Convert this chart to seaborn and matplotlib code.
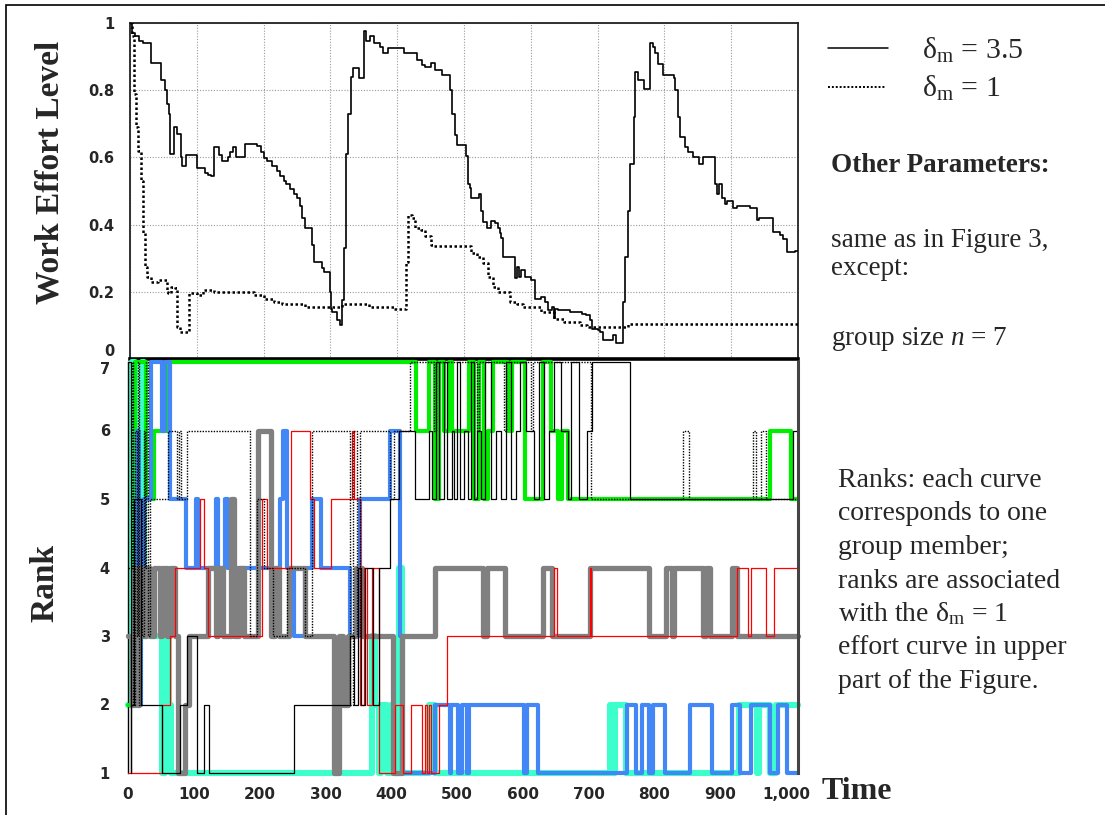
import numpy as np
import pandas as pd
import matplotlib
matplotlib.use("Agg")
import matplotlib.pyplot as plt
from matplotlib.lines import Line2D
from matplotlib.patches import Rectangle
import seaborn as sns

# ---------------- data: work effort (upper panel) ----------------
# delta_m = 3.5 (solid) : step change points (time, effort)
solid_t = [0, 3, 8, 13, 20, 32, 45, 47, 52, 55, 58, 60, 66, 71, 76, 78, 84, 101, 112, 117,
           122, 126, 133, 138, 146, 150, 154, 158, 165, 172, 190, 196, 200, 205, 212, 220,
           225, 230, 234, 240, 245, 250, 255, 257, 262, 272, 275, 287, 291, 299, 301, 303,
           310, 315, 317, 320, 324, 327, 331, 334, 343, 350, 353, 360, 366, 374, 379, 386,
           410, 430, 437, 442, 450, 457, 467, 479, 482, 486, 489, 503, 506, 509, 511, 522,
           525, 529, 534, 540, 547, 551, 554, 556, 559, 577, 580, 583, 586, 591, 601, 606,
           616, 621, 626, 631, 634, 636, 641, 659, 676, 683, 688, 691, 701, 704, 708, 723,
           728, 738, 741, 746, 748, 754, 756, 761, 770, 779, 783, 786, 791, 798, 814, 816,
           821, 823, 831, 836, 843, 852, 858, 876, 878, 882, 886, 891, 894, 903, 908, 928,
           938, 941, 963, 973, 978, 983, 995, 1000]
solid_v = [1.00, 0.97, 0.96, 0.945, 0.94, 0.88, 0.88, 0.83, 0.80, 0.76, 0.73, 0.61, 0.69, 0.67,
           0.60, 0.575, 0.607, 0.568, 0.555, 0.548, 0.545, 0.63, 0.607, 0.59, 0.60, 0.617,
           0.63, 0.60, 0.60, 0.64, 0.635, 0.617, 0.598, 0.59, 0.575, 0.56, 0.545, 0.53, 0.52,
           0.505, 0.49, 0.478, 0.455, 0.42, 0.39, 0.34, 0.29, 0.27, 0.26, 0.20, 0.15, 0.14,
           0.116, 0.10, 0.175, 0.33, 0.61, 0.73, 0.84, 0.865, 0.835, 0.975, 0.945, 0.96, 0.94,
           0.93, 0.91, 0.925, 0.91, 0.89, 0.875, 0.87, 0.88, 0.86, 0.845, 0.80, 0.73, 0.667,
           0.637, 0.605, 0.52, 0.51, 0.48, 0.49, 0.44, 0.409, 0.39, 0.41, 0.405, 0.39, 0.375,
           0.36, 0.305, 0.24, 0.275, 0.245, 0.265, 0.245, 0.235, 0.18, 0.186, 0.171, 0.145,
           0.155, 0.123, 0.15, 0.145, 0.14, 0.135, 0.13, 0.116, 0.09, 0.085, 0.08, 0.056, 0.07,
           0.047, 0.17, 0.305, 0.44, 0.58, 0.72, 0.855, 0.83, 0.805, 0.94, 0.93, 0.91, 0.877,
           0.845, 0.835, 0.80, 0.72, 0.66, 0.63, 0.617, 0.60, 0.58, 0.60, 0.52, 0.49, 0.52,
           0.48, 0.46, 0.47, 0.45, 0.455, 0.45, 0.414, 0.42, 0.378, 0.37, 0.357, 0.317, 0.32,
           0.32]

# delta_m = 1 (dotted)
dotted_t = [0, 3, 6, 9, 12, 16, 19, 20, 22, 25, 32, 42, 55, 57, 62, 67, 70, 75, 87, 89, 95,
            100, 110, 125, 185, 200, 215, 227, 262, 318, 358, 395, 413, 416, 422, 427, 435,
            442, 450, 455, 511, 519, 529, 536, 544, 551, 569, 579, 589, 616, 634, 649, 674,
            684, 746, 1000]
dotted_v = [1.0, 0.96, 0.79, 0.69, 0.62, 0.53, 0.45, 0.375, 0.275, 0.245, 0.23, 0.235, 0.20,
            0.195, 0.215, 0.21, 0.096, 0.08, 0.08, 0.195, 0.195, 0.19, 0.205, 0.20, 0.19,
            0.18, 0.17, 0.165, 0.155, 0.165, 0.155, 0.15, 0.29, 0.43, 0.42, 0.39, 0.385,
            0.365, 0.34, 0.335, 0.315, 0.305, 0.285, 0.245, 0.215, 0.20, 0.17, 0.165, 0.155,
            0.14, 0.12, 0.11, 0.10, 0.095, 0.105, 0.105]

# ---------------- data: ranks (lower panel) ----------------
cyan_t = [0, 6, 10, 14, 17, 21, 25, 52, 56, 62, 66, 370, 376, 381, 385, 393, 399, 405, 411,
          417, 457, 467, 732, 736, 740, 757, 928, 955, 959, 975, 985, 1018]
cyan_r = [2, 7, 2, 6, 3, 7, 3, 1, 3, 2, 1, 3, 2, 1, 2, 1, 2, 1, 4, 1, 2, 1, 2, 1, 2, 1, 2, 1,
          2, 1, 2, 2]

green_t = [0, 11, 27, 39, 62, 438, 457, 467, 472, 480, 487, 492, 518, 525, 533, 541, 547,
           555, 578, 583, 603, 630, 643, 653, 659, 669, 975, 1008, 1018]
green_r = [2, 7, 5, 6, 7, 6, 7, 5, 7, 6, 7, 6, 7, 5, 7, 5, 6, 7, 6, 7, 5, 7, 6, 5, 6, 5, 6,
           5, 5]

blue_t = [0, 10, 13, 17, 20, 25, 35, 51, 56, 64, 88, 103, 107, 133, 137, 147, 152, 160, 165,
          231, 236, 241, 252, 269, 279, 294, 338, 352, 398, 413, 416, 467, 489, 491, 502,
          507, 515, 518, 601, 606, 623, 758, 772, 781, 791, 798, 816, 854, 887, 918, 930,
          947, 975, 988, 1001, 1018]
blue_r = [3, 2, 6, 2, 3, 5, 7, 6, 7, 5, 4, 5, 4, 5, 4, 5, 4, 3, 4, 5, 6, 4, 3, 4, 5, 4, 3, 5,
          6, 3, 1, 2, 1, 2, 1, 2, 1, 2, 1, 2, 1, 2, 1, 2, 1, 2, 1, 2, 1, 2, 1, 2, 1, 2, 1, 1]

gray_t = [0, 6, 9, 13, 17, 21, 27, 33, 40, 48, 52, 59, 64, 72, 76, 87, 92, 122, 133, 137,
          145, 157, 161, 168, 176, 198, 218, 224, 230, 244, 269, 313, 320, 327, 334, 347,
          355, 403, 417, 466, 540, 546, 573, 631, 644, 702, 792, 817, 827, 829, 874, 878,
          884, 917, 925, 1018]
gray_r = [3, 2, 4, 2, 4, 3, 4, 3, 4, 3, 4, 3, 4, 3, 1, 2, 3, 4, 3, 4, 3, 5, 3, 4, 3, 6, 3, 4,
          3, 4, 3, 1, 3, 2, 3, 4, 3, 1, 3, 4, 3, 4, 3, 4, 3, 4, 3, 4, 3, 4, 3, 4, 3, 4, 3, 3]

red_t = [0, 51, 64, 71, 110, 115, 122, 204, 211, 247, 277, 282, 308, 341, 344, 352, 358,
         363, 370, 381, 406, 418, 430, 447, 451, 454, 457, 460, 472, 484, 647, 652, 702,
         704, 926, 942, 947, 970, 981, 1018]
red_r = [1, 2, 3, 4, 5, 4, 3, 5, 4, 6, 5, 4, 5, 6, 5, 2, 4, 2, 4, 1, 2, 1, 2, 1, 2, 1, 2, 1,
         2, 3, 4, 3, 4, 3, 4, 3, 4, 3, 4, 4]

black_t = [0, 4, 5, 9, 19, 51, 79, 89, 105, 115, 123, 252, 338, 344, 350, 354, 360, 372,
           381, 398, 411, 436, 457, 462, 468, 472, 480, 485, 492, 496, 500, 505, 511, 516,
           521, 526, 531, 536, 543, 551, 559, 567, 575, 582, 589, 596, 605, 617, 624, 632,
           640, 648, 658, 669, 673, 685, 697, 705, 763, 1011, 1018]
black_r = [7, 1, 2, 5, 2, 1, 2, 3, 1, 2, 1, 2, 3, 2, 4, 2, 4, 2, 4, 5, 6, 5, 6, 5, 7, 5, 7,
           5, 6, 5, 7, 5, 6, 5, 7, 5, 6, 5, 7, 5, 6, 5, 7, 5, 6, 7, 6, 5, 7, 5, 6, 7, 6, 5,
           7, 5, 6, 7, 5, 6, 6]

dot_t = [0, 6, 8, 11, 13, 15, 17, 20, 22, 24, 26, 28, 30, 33, 61, 74, 77, 81, 89, 186, 196,
         206, 221, 242, 269, 279, 338, 342, 348, 352, 398, 404, 429, 465, 468, 531, 534,
         571, 575, 612, 616, 703, 843, 852, 950, 954, 962, 970, 1018]
dot_r = [4, 7, 2, 6, 3, 7, 2, 5, 3, 6, 4, 7, 3, 5, 6, 5, 6, 5, 6, 3, 5, 4, 3, 4, 3, 6, 2, 6,
         3, 6, 5, 6, 7, 6, 7, 6, 7, 6, 7, 6, 7, 5, 6, 5, 6, 5, 6, 5, 5]

x_ticks = [0, 100, 200, 300, 400, 500, 600, 700, 800, 900, 1000]
x_tick_labels = ["0", "100", "200", "300", "400", "500", "600", "700", "800", "900", "1,000"]
effort_ticks = [0, 0.2, 0.4, 0.6, 0.8, 1.0]
effort_tick_labels = ["0", "0.2", "0.4", "0.6", "0.8", "1"]
rank_ticks = [1, 2, 3, 4, 5, 6, 7]

# ---------------- styling ----------------
sns.set_theme(style="white")
plt.rcParams["font.family"] = ["Liberation Serif", "DejaVu Serif"]
plt.rcParams["mathtext.fontset"] = "custom"
plt.rcParams["mathtext.rm"] = "Liberation Serif"
plt.rcParams["mathtext.it"] = "Liberation Serif:italic"
plt.rcParams["mathtext.bf"] = "Liberation Serif:bold"

W, H = 1105, 815
fig = plt.figure(figsize=(W / 100, H / 100), dpi=100)
fig.patch.set_facecolor("white")


def fx(px):
    return px / W


def fy(py):
    return 1 - py / H


ax1 = fig.add_axes([fx(130), fy(359), (798 - 130) / W, (359 - 23) / H])
ax2 = fig.add_axes([fx(128), fy(773), (798 - 128) / W, (773 - 362) / H])

# upper panel
sns.lineplot(x=solid_t, y=solid_v, ax=ax1, color="black", lw=1.2, estimator=None,
             sort=False, drawstyle="steps-post", legend=False, zorder=3)
sns.lineplot(x=dotted_t, y=dotted_v, ax=ax1, color="black", lw=1.8, estimator=None,
             sort=False, drawstyle="steps-post", linestyle=(0, (1, 1)), legend=False,
             zorder=3)
ax1.set_xlim(0, 1000)
ax1.set_ylim(0, 1)
ax1.set_xticks(x_ticks)
ax1.set_xticklabels([])
ax1.set_yticks(effort_ticks)
ax1.set_yticklabels(effort_tick_labels)
ax1.grid(True, color="#9a9a9a", linestyle=(0, (1, 1.5)), lw=0.8)
ax1.tick_params(axis="both", length=0)
ax1.tick_params(axis="y", pad=11)
for lbl in ax1.get_yticklabels():
    lbl.set_fontfamily(["DejaVu Sans"])
    lbl.set_fontweight("bold")
    lbl.set_fontsize(10.5)
    if lbl.get_text() == "0":
        lbl.set_verticalalignment("bottom")
for side in ["left", "top", "right"]:
    ax1.spines[side].set_color("#222222")
    ax1.spines[side].set_linewidth(1.3)
ax1.spines["bottom"].set_color("black")
ax1.spines["bottom"].set_linewidth(2.6)
ax1.spines["bottom"].set_zorder(6)
ax1.set_xlabel("")
ax1.set_ylabel("")

# lower panel
members = [
    (cyan_t, cyan_r, "#3DFFCB", 4.4, "-", 2),
    (green_t, green_r, "#00EE00", 3.0, "-", 3),
    (blue_t, blue_r, "#4287F5", 3.0, "-", 4),
    (gray_t, gray_r, "#808080", 3.8, "-", 5),
    (red_t, red_r, "#FF0000", 0.9, "-", 6),
    (black_t, black_r, "black", 0.9, "-", 7),
    (dot_t, dot_r, "black", 1.0, (0, (1, 1)), 7),
]
for t, r, c, lw, ls, z in members:
    sns.lineplot(x=t, y=r, ax=ax2, color=c, lw=lw, linestyle=ls, estimator=None,
                 sort=False, drawstyle="steps-post", legend=False, zorder=z,
                 clip_on=False)
ax2.set_xlim(0, 1018)
ax2.set_ylim(1, 7)
ax2.set_xticks(x_ticks)
ax2.set_xticklabels(x_tick_labels)
ax2.set_yticks(rank_ticks)
ax2.set_yticklabels([str(v) for v in rank_ticks])
ax2.tick_params(axis="both", length=0)
ax2.tick_params(axis="y", pad=13)
ax2.tick_params(axis="x", pad=10)
for lbl in ax2.get_yticklabels():
    lbl.set_fontfamily(["DejaVu Sans"])
    lbl.set_fontweight("bold")
    lbl.set_fontsize(10.5)
    if lbl.get_text() == "7":
        lbl.set_verticalalignment("top")
for lbl in ax2.get_xticklabels():
    lbl.set_fontfamily(["DejaVu Sans"])
    lbl.set_fontweight("bold")
    lbl.set_fontsize(11)
ax2.spines["top"].set_visible(False)
ax2.spines["bottom"].set_visible(False)
ax2.spines["left"].set_color("black")
ax2.spines["left"].set_linewidth(1.0)
ax2.spines["right"].set_color("#444444")
ax2.spines["right"].set_linewidth(2.2)
ax2.spines["right"].set_zorder(8)
ax2.set_xlabel("")
ax2.set_ylabel("")
ax2.set_facecolor("none")

# axis titles
fig.text(fx(50), fy(172), "Work Effort Level", rotation=90, ha="center", va="center",
         fontsize=24, fontweight="bold")
fig.text(fx(45), fy(583), "Rank", rotation=90, ha="center", va="center",
         fontsize=24, fontweight="bold")
fig.text(fx(822), fy(799), "Time", ha="left", va="baseline", fontsize=23,
         fontweight="bold")

# legend
fig.add_artist(Line2D([fx(828), fx(888)], [fy(48), fy(48)], color="black", lw=1.1))
fig.add_artist(Line2D([fx(828), fx(886)], [fy(87), fy(87)], color="black", lw=1.4,
                      linestyle=(0, (1, 1))))
fig.text(fx(922), fy(59), r"$\mathrm{\delta}_\mathrm{m}$ = 3.5", ha="left",
         va="baseline", fontsize=21.5)
fig.text(fx(922), fy(97), r"$\mathrm{\delta}_\mathrm{m}$ = 1", ha="left",
         va="baseline", fontsize=21.5)

# parameter notes
fig.text(fx(831), fy(172), "Other Parameters:", ha="left", va="baseline", fontsize=19.5,
         fontweight="bold")
fig.text(fx(831), fy(247), "same as in Figure 3,", ha="left", va="baseline", fontsize=19.5)
fig.text(fx(831), fy(275), "except:", ha="left", va="baseline", fontsize=19.5)
fig.text(fx(831), fy(345), r"group size $n$ = $\mathit{7}$", ha="left", va="baseline",
         fontsize=19.5)

rank_note = ["Ranks: each curve", "corresponds to one", "group member;",
             "ranks are associated", r"with the $\mathrm{\delta}_\mathrm{m}$ = 1",
             "effort curve in upper", "part of the Figure."]
for i, line in enumerate(rank_note):
    fig.text(fx(838), fy(487 + 33.5 * i), line, ha="left", va="baseline", fontsize=20)

# outer frame (left and top edges visible)
fig.patches.append(Rectangle((fx(6), -0.1), 1.2, fy(5) + 0.1, transform=fig.transFigure,
                             fill=False, ec="black", lw=1.2))

fig.savefig("out.png", dpi=100)
